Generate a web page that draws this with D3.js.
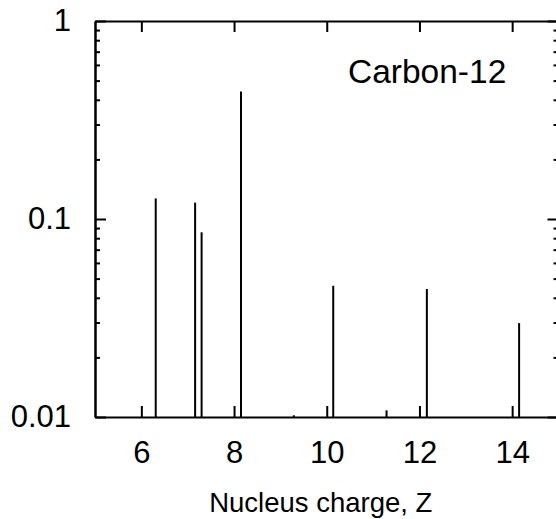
<!DOCTYPE html>
<html>
<head>
<meta charset="utf-8">
<script src="https://cdn.jsdelivr.net/npm/d3@7"></script>
<style>
  body { margin: 0; background: #fff; }
  text { font-family: "Liberation Sans", Arial, sans-serif; fill: #000; }
</style>
</head>
<body>
<div id="chart"></div>
<script>
// fragment charges (bars sit slightly right of the integer Z) and yields
var charges = [6.31, 7.16, 7.30, 8.15, 9.29, 10.14, 11.29, 12.16, 14.15];
var yields = [0.127, 0.121, 0.0857, 0.44, 0.0102, 0.046, 0.0108, 0.0443, 0.0298];

var xTicks = [6, 8, 10, 12, 14];
var yMajor = [1, 0.1, 0.01];
var yMinor = [0.9, 0.8, 0.7, 0.6, 0.5, 0.4, 0.3, 0.2,
              0.09, 0.08, 0.07, 0.06, 0.05, 0.04, 0.03, 0.02];
var label = "Carbon-12";
var xTitle = "Nucleus charge, Z";

var width = 556, height = 519;
var mLeft = 95, mRight = 558.5, mTop = 21, mBottom = 417;

var svg = d3.select("#chart").append("svg")
  .attr("width", width)
  .attr("height", height);

var x = d3.scaleLinear().domain([5, 15]).range([mLeft, mRight]);
var y = d3.scaleLog().domain([0.01, 1]).range([mBottom, mTop]);

function fmt(d) { return d === 1 ? "1" : d === 0.1 ? "0.1" : "0.01"; }

// bottom axis with labels
svg.append("g")
  .attr("transform", "translate(0," + mBottom + ")")
  .call(d3.axisBottom(x).tickValues(xTicks).tickSizeInner(-11).tickSizeOuter(0).tickPadding(24).tickFormat(d3.format("d")));

// top axis, ticks only
svg.append("g")
  .attr("transform", "translate(0," + mTop + ")")
  .call(d3.axisTop(x).tickValues(xTicks).tickSizeInner(-11).tickSizeOuter(0).tickFormat(""));

// left axis
svg.append("g")
  .attr("transform", "translate(" + mLeft + ",0)")
  .call(d3.axisLeft(y).tickValues(yMajor).tickSizeInner(-11).tickSizeOuter(0).tickPadding(24).tickFormat(fmt));
svg.append("g")
  .attr("transform", "translate(" + mLeft + ",0)")
  .call(d3.axisLeft(y).tickValues(yMinor).tickSizeInner(-5).tickSizeOuter(0).tickFormat(""));

// right axis
svg.append("g")
  .attr("transform", "translate(" + mRight + ",0)")
  .call(d3.axisRight(y).tickValues(yMajor).tickSizeInner(-11).tickSizeOuter(0).tickFormat(""));
svg.append("g")
  .attr("transform", "translate(" + mRight + ",0)")
  .call(d3.axisRight(y).tickValues(yMinor).tickSizeInner(-5).tickSizeOuter(0).tickFormat(""));

svg.selectAll(".domain").attr("stroke", "#000").attr("stroke-width", 2);
svg.selectAll(".tick line").attr("stroke", "#000").attr("stroke-width", 2);
svg.selectAll(".tick text")
  .style("font-family", "Liberation Sans, Arial, sans-serif")
  .style("font-size", "31px")
  .attr("fill", "#000");

// bars
svg.append("g").selectAll("line.bar")
  .data(charges)
  .enter().append("line")
  .attr("class", "bar")
  .attr("x1", function (d) { return x(d); })
  .attr("x2", function (d) { return x(d); })
  .attr("y1", y(0.01))
  .attr("y2", function (d, i) { return y(yields[i]); })
  .attr("stroke", "#000")
  .attr("stroke-width", 2);

svg.append("text")
  .attr("x", 348)
  .attr("y", 83)
  .style("font-size", "33.5px")
  .text(label);

svg.append("text")
  .attr("x", (mLeft + mRight) / 2 - 6)
  .attr("y", 512)
  .attr("text-anchor", "middle")
  .style("font-size", "27.5px")
  .text(xTitle);
</script>
</body>
</html>
